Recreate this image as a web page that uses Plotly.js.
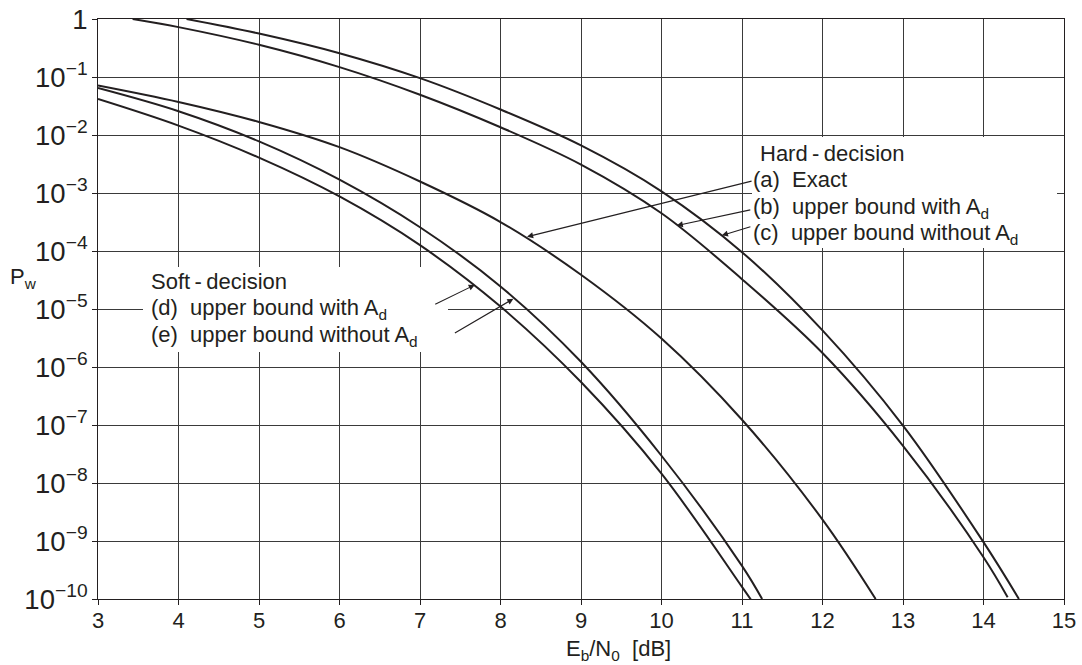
<!DOCTYPE html>
<html><head><meta charset="utf-8">
<script src="https://cdn.plot.ly/plotly-3.0.1.min.js"></script>
<style>html,body{margin:0;padding:0;background:#fff}#chart{width:1082px;height:665px}</style>
</head><body><div id="chart"></div>
<script>
// (a) Hard-decision, exact
const ebn0_a = [3, 4, 5, 6, 7, 8, 9, 10, 11, 12, 12.66];
const pw_a   = [7.16e-2, 3.72e-2, 1.68e-2, 6.17e-3, 1.58e-3, 3.16e-4, 3.89e-5, 3.09e-6, 1.23e-7, 2.34e-9, 1.0e-10];
// (b) Hard-decision, upper bound with A_d
const ebn0_b = [3.43, 4, 5, 6, 7, 8, 9, 10, 11, 12, 13, 14, 14.3];
const pw_b   = [1, 0.724, 0.359, 0.148, 0.0495, 1.36e-2, 3.09e-3, 4.47e-4, 3.27e-5, 1.74e-6, 4.37e-8, 5.25e-10, 1.07e-10];
// (c) Hard-decision, upper bound without A_d
const ebn0_c = [4.1, 5, 6, 7, 8, 9, 10, 11, 12, 13, 14, 14.44];
const pw_c   = [1, 0.562, 0.257, 0.0955, 0.0275, 6.61e-3, 1.07e-3, 9.55e-5, 4.27e-6, 9.77e-8, 9.55e-10, 1.0e-10];
// (d) Soft-decision, upper bound with A_d
const ebn0_d = [3, 4, 5, 6, 7, 8, 9, 10, 11, 11.11];
const pw_d   = [4.17e-2, 1.45e-2, 4.07e-3, 8.71e-4, 1.26e-4, 1.10e-5, 5.50e-7, 1.45e-8, 1.62e-10, 9.8e-11];
// (e) Soft-decision, upper bound without A_d
const ebn0_e = [3, 4, 5, 6, 7, 8, 9, 10, 11, 11.25];
const pw_e   = [6.46e-2, 2.57e-2, 7.76e-3, 1.70e-3, 2.57e-4, 2.45e-5, 1.23e-6, 2.95e-8, 3.72e-10, 1.0e-10];

const xTitle = 'E<sub>b</sub>/N<sub>0</sub>\u00a0\u00a0[dB]';
const yTitle = 'P<sub>w</sub>';
const hardLines = ['Hard\u2009-\u2009decision', '(a)\u00a0\u00a0Exact', '(b)\u00a0\u00a0upper bound with A<sub>d</sub>', '(c)\u00a0\u00a0upper bound without A<sub>d</sub>'];
const softLines = ['Soft\u2009-\u2009decision', '(d)\u00a0\u00a0upper bound with A<sub>d</sub>', '(e)\u00a0\u00a0upper bound without A<sub>d</sub>'];

const INK = '#231f20';
const FONT = 'Liberation Sans, Arial, Helvetica, sans-serif';
const L = 98, T = 19, W = 966, H = 580;
const px = v => (v - L) / W;
const py = v => 1 - (v - T) / H;

function curve(x, y) {
  return {x: x, y: y, type: 'scatter', mode: 'lines', showlegend: false, hoverinfo: 'skip',
    line: {color: INK, width: 2, shape: 'spline', smoothing: 1}};
}
const data = [curve(ebn0_a, pw_a), curve(ebn0_b, pw_b), curve(ebn0_c, pw_c), curve(ebn0_d, pw_d), curve(ebn0_e, pw_e)];

function txt(x, yTop, t) {
  return {xref: 'paper', yref: 'paper', x: px(x), y: py(yTop), xanchor: 'left', yanchor: 'top',
    text: t, showarrow: false, align: 'left', font: {family: FONT, size: 22, color: INK}};
}
function arrow(xd, pw, ax, ay) {
  return {xref: 'x', yref: 'y', x: xd, y: Math.log10(pw), ax: ax, ay: ay, text: '', showarrow: true,
    arrowhead: 2, arrowsize: 1.1, arrowwidth: 1.1, arrowcolor: INK, standoff: 0, startstandoff: 0};
}

const annotations = [];
const hardTops = [138.5, 165, 191.5, 218];
hardLines.forEach((t, i) => annotations.push(txt(i === 0 ? 758 : 751, hardTops[i], t)));
const softTops = [267, 293.5, 320];
softLines.forEach((t, i) => annotations.push(txt(149, softTops[i], t)));
annotations.push(txt(8, 261.5, yTitle));
annotations.push(txt(563.5, 634, xTitle));
// arrows: tips on the curves, tails as pixel offsets toward the label text
annotations.push(arrow(8.33, 1.76e-4, 226, -56));
annotations.push(arrow(10.19, 2.75e-4, 75, -16));
annotations.push(arrow(10.75, 1.86e-4, 30, -9));
annotations.push(arrow(7.68, 2.6e-5, -41, 20));
annotations.push(arrow(8.16, 1.5e-5, -60, 35));

const shapes = [
  {type: 'rect', xref: 'paper', yref: 'paper', x0: px(752), x1: px(1057), y0: py(248), y1: py(137),
    fillcolor: '#ffffff', line: {width: 0}, layer: 'above'},
  {type: 'rect', xref: 'paper', yref: 'paper', x0: px(143), x1: px(448), y0: py(352), y1: py(267),
    fillcolor: '#ffffff', line: {width: 0}, layer: 'above'}
];

const axisCommon = {
  showgrid: true, gridcolor: '#3a3a3a', gridwidth: 1, zeroline: false,
  showline: true, linecolor: INK, linewidth: 1, mirror: true,
  ticks: 'outside', ticklen: 5, tickcolor: INK, tickwidth: 1,
  tickfont: {family: FONT, size: 22, color: INK}
};

const layout = {
  width: 1082, height: 665,
  margin: {l: L, r: 1082 - L - W, t: T, b: 665 - T - H},
  paper_bgcolor: '#ffffff', plot_bgcolor: '#ffffff',
  xaxis: Object.assign({}, axisCommon, {range: [3, 15], dtick: 1, tick0: 3, ticklabelstandoff: -3}),
  yaxis: Object.assign({}, axisCommon, {type: 'log', range: [-10, 0], dtick: 1, exponentformat: 'power'}),
  annotations: annotations,
  shapes: shapes
};

Plotly.newPlot('chart', data, layout, {staticPlot: true, displayModeBar: false});
</script>
</body></html>
